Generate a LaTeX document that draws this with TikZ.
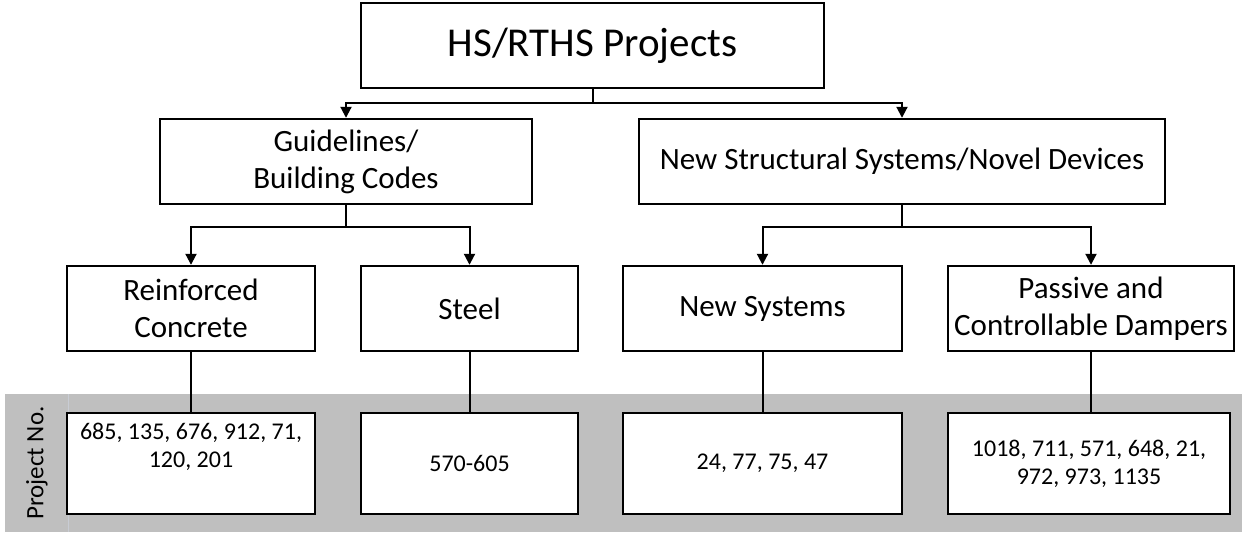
\documentclass[tikz,border=0pt]{standalone}
\usepackage{fontspec}
\setmainfont{Carlito}
\usetikzlibrary{arrows.meta}
\definecolor{bandgray}{RGB}{191,191,191}
\definecolor{sepcol}{RGB}{200,204,212}
\begin{document}
\begin{tikzpicture}[x=1pt,y=-1pt,
  box/.style={draw=black,line width=2.4pt,fill=white,inner sep=0pt,align=center,
    minimum height=85pt,font=\fontsize{31}{37}\selectfont},
  titlebox/.style={box,font=\fontsize{41}{48}\selectfont},
  pbox/.style={draw=black,line width=2.4pt,fill=white,inner sep=0pt,align=center,
    minimum height=101pt,font=\fontsize{24}{28}\selectfont},
  conn/.style={line width=2pt},
  arr/.style={line width=2pt,-{Triangle[length=11pt,width=11pt]}}
]
\useasboundingbox (0,0) rectangle (1242,533);
\fill[bandgray] (5,394) rectangle (1242,532);
\draw[sepcol,line width=0.6pt] (68,394) -- (68,532);
\node[rotate=90,font=\fontsize{25}{30}\selectfont] (pn) at (37,463) {Project No.};

\node[titlebox,minimum width=463pt] (top) at (592.5,45.5) {HS/RTHS Projects};
\node[box,minimum width=372pt] (gl) at (346,161.5) {Guidelines/\\Building Codes};
\node[box,minimum width=526pt] (ns) at (902,161.5) {New Structural Systems/Novel Devices};
\node[box,minimum width=248pt] (rc) at (191,308.5) {Reinforced\\Concrete};
\node[box,minimum width=217pt] (st) at (469.5,308.5) {Steel};
\node[box,minimum width=279pt] (nsy) at (762.5,308.5) {New Systems};
\node[box,minimum width=286pt] (pd) at (1091,308.5) {Passive and\\Controllable Dampers};

\node[pbox,minimum width=248pt] (p1) at (191,463.5) {685, 135, 676, 912, 71,\\120, 201\\\strut};
\node[pbox,minimum width=217pt] (p2) at (469.5,463.5) {570-605};
\node[pbox,minimum width=279pt] (p3) at (762.5,463.5) {24, 77, 75, 47};
\node[pbox,minimum width=282pt] (p4) at (1089,463.5) {1018, 711, 571, 648, 21,\\972, 973, 1135};

\coordinate (j0) at (592.5,103);
\draw[conn] (top.south) -- (j0);
\draw[arr] (j0) -| (gl.north);
\draw[arr] (j0) -| (ns.north);

\coordinate (j1) at (346,227);
\draw[conn] (gl.south) -- (j1);
\draw[arr] (j1) -| (rc.north);
\draw[arr] (j1) -| (st.north);

\coordinate (j2) at (902,227);
\draw[conn] (ns.south) -- (j2);
\draw[arr] (j2) -| (nsy.north);
\draw[arr] (j2) -| (pd.north);

\draw[conn] (rc.south) -- (p1.north);
\draw[conn] (st.south) -- (p2.north);
\draw[conn] (nsy.south) -- (p3.north);
\draw[conn] (pd.south) -- (pd.south |- p4.north);
\end{tikzpicture}
\end{document}
